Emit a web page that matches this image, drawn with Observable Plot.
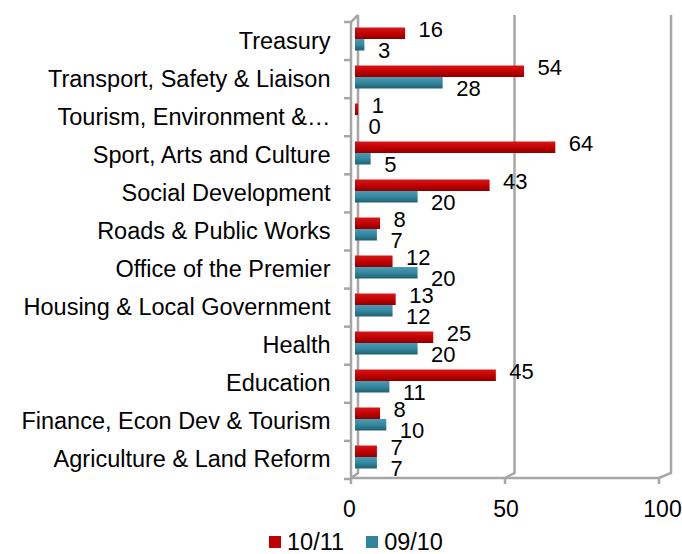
<!DOCTYPE html>
<html><head><meta charset="utf-8">
<script src="https://cdn.jsdelivr.net/npm/d3@7"></script>
<script src="https://cdn.jsdelivr.net/npm/@observablehq/plot@0.6"></script>
<style>
body{margin:0;background:#fff;font-family:"Liberation Sans",Arial,sans-serif;}
#chart{width:682px;}
.legend{display:flex;justify-content:center;align-items:center;gap:22px;padding-left:30px;font-size:23.5px;line-height:24px;color:#000;}
.legend span.item{display:inline-flex;align-items:center;}
.sw{display:inline-block;width:12px;height:12px;margin-right:6px;}
</style></head><body><div id="chart"></div>
<script>
const categories = [
  "Treasury",
  "Transport, Safety & Liaison",
  "Tourism, Environment &…",
  "Sport, Arts and Culture",
  "Social Development",
  "Roads & Public Works",
  "Office of the Premier",
  "Housing & Local Government",
  "Health",
  "Education",
  "Finance, Econ Dev & Tourism",
  "Agriculture & Land Reform"
];
const values1011 = [16, 54, 1, 64, 43, 8, 12, 13, 25, 45, 8, 7];
const values0910 = [3, 28, 0, 5, 20, 7, 20, 12, 20, 11, 10, 7];
const seriesNames = ["10/11", "09/10"];
const seriesColors = ["#c00000", "#31849b"];
const xTicks = [0, 50, 100];

const rows = categories.map((c, i) => ({cat: c, a: values1011[i], b: values0910[i]}));

function frame3d(index, scales, values, dims) {
  const x = scales.x;
  const top = dims.marginTop, bottom = dims.height - dims.marginBottom;
  const n = categories.length, step = (bottom - top) / n;
  const g = d3.create("svg:g").attr("fill", "none").attr("stroke", "#a6a6a6").attr("stroke-width", 2.5);
  const backBottom = bottom - 3, frontBottom = bottom + 2, wallTop = top - 4;
  for (const v of xTicks) {
    const bx = x(v) + 3, fx = x(v) - 4 - v * 0.05;
    g.append("path").attr("d", `M${bx},${wallTop}V${backBottom}L${fx},${frontBottom}`);
    g.append("path").attr("d", `M${fx},${frontBottom}v6`);
  }
  g.append("path").attr("d", `M${x(0) - 4},${frontBottom}H${x(100) - 9}`);
  g.append("path").attr("d", `M${x(0) + 3},${wallTop}L${x(0) - 4},${top + 3}V${frontBottom}`);
  for (let k = 0; k <= n; k++) {
    const yy = top + k * step + 3;
    g.append("path").attr("d", `M${x(0) - 11},${yy}H${x(0) - 4}`);
  }
  return g.node();
}

const plot = Plot.plot({
  width: 682,
  height: 530,
  marginLeft: 355,
  marginRight: 14,
  marginTop: 19,
  marginBottom: 54,
  style: {fontFamily: "'Liberation Sans', Arial, sans-serif", color: "#000", background: "#fff"},
  x: {domain: [0, 100], label: null},
  y: {domain: categories, padding: 0, label: null},
  marks: [
    frame3d,
    Plot.barX(rows, {x: "a", y: "cat", fill: "url(#gRed)", insetTop: 7.5, insetBottom: 19}),
    Plot.barX(rows, {x: "b", y: "cat", fill: "url(#gTeal)", insetTop: 19, insetBottom: 7.5}),
    Plot.text(rows, {x: "a", y: "cat", text: d => String(d.a), textAnchor: "start", dx: 13, dy: -10, fontSize: 22, fill: "#000"}),
    Plot.text(rows, {x: "b", y: "cat", text: d => String(d.b), textAnchor: "start", dx: 13, dy: 11, fontSize: 22, fill: "#000"}),
    Plot.axisY({tickSize: 0, tickPadding: 25, fontSize: 23.5, dy: 2, label: null}),
    Plot.axisX({ticks: xTicks, tickSize: 0, tickPadding: 24, dx: -6, fontSize: 23, label: null})
  ]
});

const ns = "http://www.w3.org/2000/svg";
const defs = document.createElementNS(ns, "defs");
defs.innerHTML = `
<linearGradient id="gRed" x1="0" y1="0" x2="0" y2="1">
  <stop offset="0" stop-color="#d81818"/><stop offset="0.55" stop-color="#c00000"/><stop offset="1" stop-color="#8c0000"/>
</linearGradient>
<linearGradient id="gTeal" x1="0" y1="0" x2="0" y2="1">
  <stop offset="0" stop-color="#4a9db5"/><stop offset="0.55" stop-color="#31849b"/><stop offset="1" stop-color="#20606f"/>
</linearGradient>`;
plot.prepend(defs);

const chart = document.getElementById("chart");
chart.appendChild(plot);
const legend = document.createElement("div");
legend.className = "legend";
seriesNames.forEach((s, i) => {
  const it = document.createElement("span");
  it.className = "item";
  it.innerHTML = `<span class="sw" style="background:${seriesColors[i]}"></span>${s}`;
  legend.appendChild(it);
});
chart.appendChild(legend);
</script></body></html>
